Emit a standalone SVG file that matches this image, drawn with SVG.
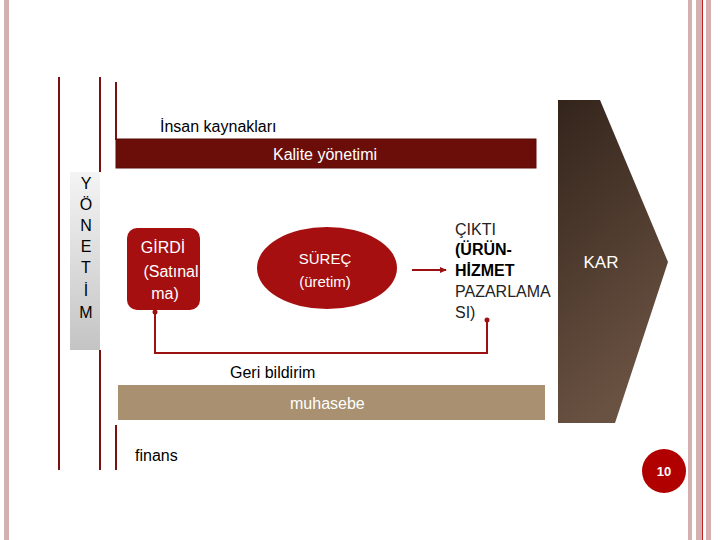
<svg xmlns="http://www.w3.org/2000/svg" width="720" height="540" viewBox="0 0 720 540">
<style>
text{font-family:"Liberation Sans",Arial,sans-serif;}
.w{fill:#fff;}
.l{stroke:#7a1010;stroke-width:2;fill:none;}
.c{stroke:#9b1010;stroke-width:2;fill:none;}
</style>
<defs>
<linearGradient id="g" x1="0" y1="0" x2="1" y2="0"><stop offset="0" stop-color="#fff"/><stop offset="1" stop-color="#c8c8c8"/></linearGradient>
<linearGradient id="gy" x1="0" y1="0" x2="0" y2="1"><stop offset="0" stop-color="#f4f4f4"/><stop offset="1" stop-color="#c4c4c4"/></linearGradient>
<linearGradient id="b" x1="0" y1="0" x2="0.3" y2="1"><stop offset="0" stop-color="#33241b"/><stop offset="1" stop-color="#6a5242"/></linearGradient>
<marker id="a" markerWidth="8" markerHeight="8" refX="6" refY="4" orient="auto" markerUnits="userSpaceOnUse"><path d="M0,1 L7,4 L0,7 Z" fill="#9b1010"/></marker>
<marker id="d" markerWidth="6" markerHeight="6" refX="3" refY="3" markerUnits="userSpaceOnUse"><circle cx="3" cy="3" r="2.5" fill="#9b1010"/></marker>
</defs>
<rect width="720" height="540" fill="#fff"/>
<rect x="4" y="0" width="5" height="540" fill="#d4b0b0"/>
<rect x="688" y="0" width="4" height="540" fill="#d4b0b0"/>
<rect x="696" y="0" width="6" height="540" fill="#d4b0b0"/>
<rect x="702" y="0" width="1" height="540" fill="#c02020"/>
<rect x="706" y="0" width="5" height="540" fill="#d4b0b0"/>
<g id="frame">
<line class="l" x1="59" y1="77" x2="59" y2="470"/>
<line class="l" x1="100" y1="77" x2="100" y2="172"/>
<line class="l" x1="100" y1="350" x2="100" y2="470"/>
<line class="l" x1="116" y1="82" x2="116" y2="140"/>
<line class="l" x1="116" y1="425" x2="116" y2="470"/>
</g>
<g id="yonetim">
<rect x="70" y="172" width="30" height="178" fill="url(#gy)"/>
<text x="86" y="189" font-size="16" text-anchor="middle">Y</text>
<text x="86" y="210" font-size="16" text-anchor="middle">Ö</text>
<text x="86" y="231" font-size="16" text-anchor="middle">N</text>
<text x="86" y="252" font-size="16" text-anchor="middle">E</text>
<text x="86" y="273" font-size="16" text-anchor="middle">T</text>
<text x="86" y="296" font-size="16" text-anchor="middle">İ</text>
<text x="86" y="318" font-size="16" text-anchor="middle">M</text>
</g>
<g id="insan"><text x="160" y="132" font-size="16">İnsan kaynakları</text></g>
<g id="kalite">
<rect x="116" y="139" width="420" height="29" fill="#6b0e0a" stroke="#5a0a08"/>
<text x="325" y="160" font-size="16" text-anchor="middle" class="w">Kalite yönetimi</text>
</g>
<g id="kar">
<path d="M558,100 L600,100 L668,262 L615,423 L558,423 Z" fill="url(#b)"/>
<text x="601" y="268" font-size="17" text-anchor="middle" class="w">KAR</text>
</g>
<g id="girdi">
<rect x="127" y="228" width="73" height="82" rx="10" fill="#a50f0f"/>
<text x="163" y="253" font-size="16" text-anchor="middle" class="w">GİRDİ</text>
<text x="171" y="277" font-size="16" text-anchor="middle" class="w">(Satınal</text>
<text x="165" y="299" font-size="16" text-anchor="middle" class="w">ma)</text>
</g>
<g id="surec">
<ellipse cx="327" cy="268" rx="70" ry="41" fill="#a50f0f"/>
<text x="325" y="264" font-size="15" text-anchor="middle" class="w">SÜREÇ</text>
<text x="325" y="287" font-size="15" text-anchor="middle" class="w">(üretim)</text>
</g>
<g id="cikti" font-size="16">
<text x="455" y="235" fill="#222">ÇIKTI</text>
<text x="455" y="255" font-weight="bold">(ÜRÜN-</text>
<text x="455" y="276" font-weight="bold">HİZMET</text>
<text x="455" y="297" fill="#222">PAZARLAMA</text>
<text x="455" y="318" fill="#222">SI)</text>
</g>
<g id="connectors">
<line class="c" x1="412" y1="270" x2="446" y2="270" marker-end="url(#a)"/>
<polyline class="c" points="487,320 487,353 155,353 155,312" marker-start="url(#d)" marker-end="url(#d)"/>
</g>
<g id="geri"><text x="230" y="378" font-size="16">Geri bildirim</text></g>
<g id="muhasebe">
<rect x="118" y="385" width="427" height="35" fill="#a89070"/>
<text x="290" y="409" font-size="16" class="w">muhasebe</text>
</g>
<g id="finans"><text x="135" y="461" font-size="16">finans</text></g>
<g id="page">
<circle cx="664" cy="471" r="22" fill="#b00000"/>
<text x="664" y="476" font-size="13" font-weight="bold" text-anchor="middle" class="w">10</text>
</g>
</svg>
